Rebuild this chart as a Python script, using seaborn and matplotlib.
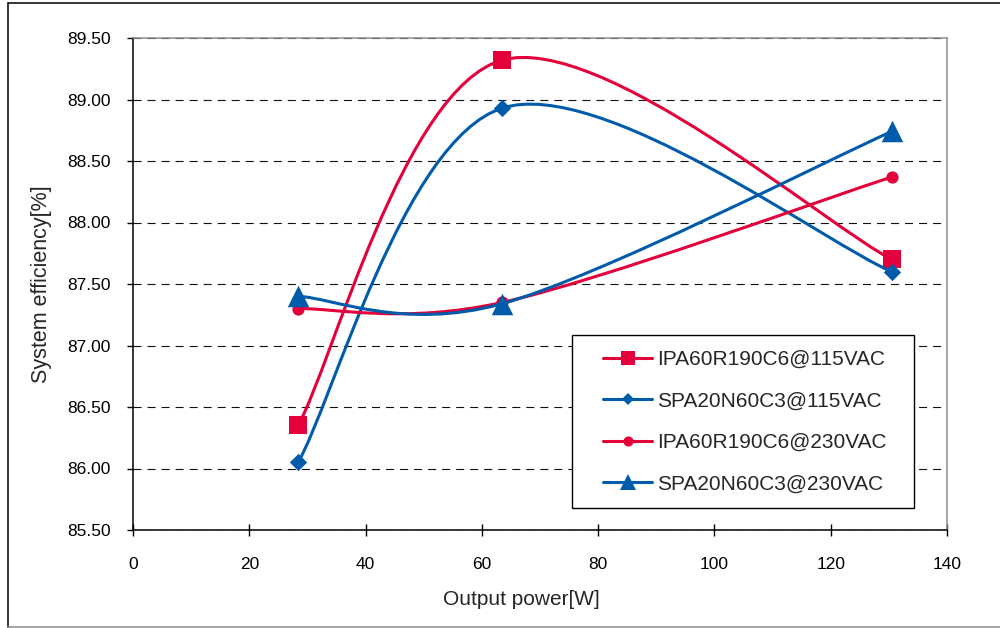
import numpy as np
import matplotlib
matplotlib.use("Agg")
import matplotlib.pyplot as plt
import seaborn as sns
from matplotlib.path import Path
from matplotlib.patches import PathPatch, Rectangle
from matplotlib.lines import Line2D
from matplotlib.ticker import FormatStrFormatter

# Measured operating points
power = [28.4, 63.5, 130.5]
ipa_115 = [86.35, 89.32, 87.70]
spa_115 = [86.05, 88.93, 87.60]
ipa_230 = [87.30, 87.35, 88.37]
spa_230 = [87.40, 87.34, 88.74]
series_names = ["IPA60R190C6@115VAC", "SPA20N60C3@115VAC",
                "IPA60R190C6@230VAC", "SPA20N60C3@230VAC"]
x_ticks = [0, 20, 40, 60, 80, 100, 120, 140]
y_ticks = [85.5, 86.0, 86.5, 87.0, 87.5, 88.0, 88.5, 89.0, 89.5]

RED = "#E3003B"
BLUE = "#005BAA"

sns.set_style("white")
plt.rcParams["font.family"] = ["Liberation Sans", "DejaVu Sans"]
plt.rcParams["lines.scale_dashes"] = False


def smooth_path(xs, ys):
    """Smoothed (Catmull-Rom style) cubic Bezier path through the points."""
    pts = np.column_stack([xs, ys]).astype(float)
    n = len(pts)
    verts = [pts[0]]
    codes = [Path.MOVETO]
    for i in range(n - 1):
        p0 = pts[i - 1] if i > 0 else pts[i]
        p1 = pts[i]
        p2 = pts[i + 1]
        p3 = pts[i + 2] if i + 2 < n else pts[i + 1]
        c1 = p1 + (p2 - p0) / 6.0
        c2 = p2 - (p3 - p1) / 6.0
        verts += [c1, c2, p2]
        codes += [Path.CURVE4] * 3
    return Path(verts, codes)


fig = plt.figure(figsize=(10, 6.28), dpi=100)
ax = fig.add_axes([0.133, 1 - 530 / 628, 0.814, 492 / 628])

styles = [
    (ipa_115, RED, "s", 13.0, 9.4),
    (spa_115, BLUE, "D", 8.8, 6.3),
    (ipa_230, RED, "o", 8.8, 7.3),
    (spa_230, BLUE, "^", 15.5, 11.5),
]

handles = []
for k, ((vals, color, marker, ms, leg_ms), name) in enumerate(zip(styles, series_names)):
    z = 2 + k * 0.5
    ax.add_patch(PathPatch(smooth_path(power, vals), facecolor="none",
                           edgecolor=color, lw=2.2, zorder=z,
                           capstyle="round", joinstyle="round"))
    sns.scatterplot(x=power, y=vals, ax=ax, marker=marker, s=ms ** 2,
                    color=color, edgecolor=color, linewidth=0,
                    zorder=z + 0.2, legend=False)
    handles.append(Line2D([], [], color=color, lw=2.2, marker=marker,
                          markersize=leg_ms, markeredgewidth=0))

ax.set_xlim(0, 140)
ax.set_ylim(85.5, 89.5)
ax.set_xticks(x_ticks)
ax.set_yticks(y_ticks)
ax.yaxis.set_major_formatter(FormatStrFormatter("%.2f"))

ax.yaxis.grid(True, color="#111111", lw=0.8, linestyle=(0, (5.8, 4.3)))
ax.xaxis.grid(False)
ax.set_axisbelow(True)

for side in ("left", "bottom"):
    ax.spines[side].set_color("black")
    ax.spines[side].set_linewidth(1.1)
for side in ("top", "right"):
    ax.spines[side].set_color("#8c8c8c")
    ax.spines[side].set_linewidth(1.1)

ax.tick_params(axis="y", direction="out", length=4.3, width=1.0,
               pad=11.5, labelsize=12.5, colors="black", left=True)
ax.tick_params(axis="x", direction="inout", length=8.6, width=1.0,
               pad=15, labelsize=12.5, colors="black", bottom=True)

ax.set_xlabel("Output power[W]", fontsize=15)
ax.set_ylabel("System efficiency[%]", fontsize=15.5)
ax.xaxis.set_label_coords(0.477, -0.122)
ax.yaxis.set_label_coords(-0.1, 0.5)

# Legend box
ax.add_patch(Rectangle((0.572, 1 - 508 / 628), 0.342, 173 / 628,
                       transform=fig.transFigure, facecolor="white",
                       edgecolor="black", lw=1.0, zorder=4.5, clip_on=False))
leg = ax.legend(handles, series_names, loc="upper left",
                bbox_to_anchor=(0.603, 1 - 350 / 628),
                bbox_transform=fig.transFigure, frameon=False,
                fontsize=15, handlelength=2.36, handletextpad=0.24,
                labelspacing=1.08, borderpad=0, borderaxespad=0)
leg.set_zorder(5)

# Chart area border
fig.add_artist(Line2D([8 / 1000, 8 / 1000], [1 - 626.5 / 628, 1 - 3.3 / 628],
                      transform=fig.transFigure, color="black", lw=1.1))
fig.add_artist(Line2D([8 / 1000, 1.0], [1 - 3.3 / 628, 1 - 3.3 / 628],
                      transform=fig.transFigure, color="black", lw=1.1))
fig.add_artist(Line2D([8 / 1000, 1.0], [1 - 626.5 / 628, 1 - 626.5 / 628],
                      transform=fig.transFigure, color="#888888", lw=1.1))

fig.savefig("out.png", dpi=100)
